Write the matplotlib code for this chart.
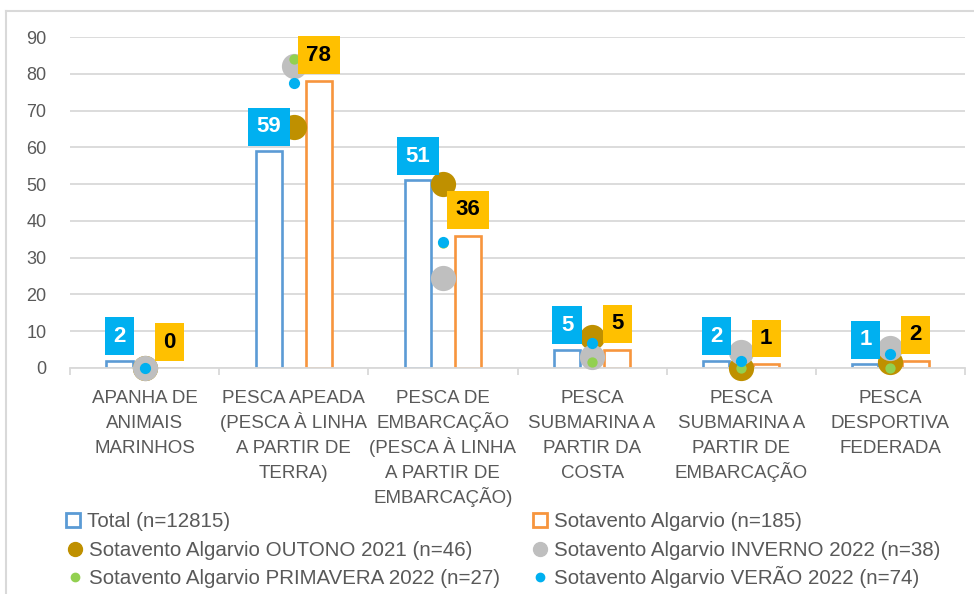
import matplotlib
matplotlib.use("Agg")
import matplotlib.pyplot as plt
import matplotlib.transforms as mtransforms
from matplotlib.lines import Line2D
import numpy as np

categories = ["APANHA DE\nANIMAIS\nMARINHOS",
              "PESCA APEADA\n(PESCA À LINHA\nA PARTIR DE\nTERRA)",
              "PESCA DE\nEMBARCAÇÃO\n(PESCA À LINHA\nA PARTIR DE\nEMBARCAÇÃO)",
              "PESCA\nSUBMARINA A\nPARTIR DA\nCOSTA",
              "PESCA\nSUBMARINA A\nPARTIR DE\nEMBARCAÇÃO",
              "PESCA\nDESPORTIVA\nFEDERADA"]
total = [2, 59, 51, 5, 2, 1]
sotavento = [0, 78, 36, 5, 1, 2]
outono = [0, 65.5, 50, 8.4, 0, 1.7]
inverno = [0, 82, 24.5, 3, 4.4, 5.4]
primavera = [0, 84, 34, 1.7, 0, 0]
verao = [0, 77.4, 34.2, 6.9, 2, 3.8]

names = ["Total (n=12815)", "Sotavento Algarvio (n=185)",
         "Sotavento Algarvio OUTONO 2021 (n=46)", "Sotavento Algarvio INVERNO 2022 (n=38)",
         "Sotavento Algarvio PRIMAVERA 2022 (n=27)", "Sotavento Algarvio VERÃO 2022 (n=74)"]

c_total = '#5B9BD5'
c_sot = '#F7953D'
c_out = '#BF9000'
c_inv = '#BFBFBF'
c_pri = '#92D050'
c_ver = '#00B0F0'
grey_txt = '#595959'

plt.rcParams['font.family'] = ['Liberation Sans', 'DejaVu Sans']

W, H = 974, 594
fig = plt.figure(figsize=(W / 100, H / 100), dpi=100)
ax = fig.add_axes([70/W, 1-368/H, 895/W, 331/H])

x = np.arange(len(categories))
w = 0.175
off = 0.168

ax.bar(x - off, total, w, facecolor='white', edgecolor=c_total, linewidth=1.9, zorder=2)
ax.bar(x + off, sotavento, w, facecolor='white', edgecolor=c_sot, linewidth=1.9, zorder=2)

ax.scatter(x, outono, s=330, color=c_out, zorder=3, clip_on=False, linewidths=0)
ax.scatter(x, inverno, s=330, color=c_inv, zorder=3, clip_on=False, linewidths=0)
ax.scatter(x, primavera, s=55, color=c_pri, zorder=3, clip_on=False, linewidths=0)
ax.scatter(x, verao, s=65, color=c_ver, zorder=3, clip_on=False, linewidths=0)

for i in range(len(categories)):
    ax.annotate(str(total[i]), (x[i] - off, total[i]), xytext=(0, 10), textcoords='offset points',
                ha='center', va='bottom', fontsize=16, fontweight='bold', color='white',
                bbox=dict(boxstyle='square,pad=0.38', fc=c_ver, ec='none'), zorder=5,
                annotation_clip=False)
    ax.annotate(str(sotavento[i]), (x[i] + off, sotavento[i]), xytext=(0, 11), textcoords='offset points',
                ha='center', va='bottom', fontsize=16, fontweight='bold', color='black',
                bbox=dict(boxstyle='square,pad=0.38', fc='#FFC000', ec='none'), zorder=5,
                annotation_clip=False)

ax.set_xlim(-0.5, len(categories) - 0.5)
ax.set_ylim(0, 90)
ax.set_yticks(range(0, 91, 10))
ax.yaxis.grid(True, color='#D9D9D9', linewidth=1.3)
ax.set_axisbelow(True)
for s in ['left', 'right', 'top']:
    ax.spines[s].set_visible(False)
ax.spines['bottom'].set_color('#D9D9D9')
ax.spines['bottom'].set_linewidth(1.3)
ax.tick_params(axis='y', length=0, pad=17, labelsize=13, labelcolor=grey_txt)
ax.set_xticks(x)
ax.set_xticklabels([])
ax.set_xticks(np.arange(-0.5, len(categories), 1), minor=True)
ax.tick_params(axis='x', which='major', length=0)
ax.tick_params(axis='x', which='minor', length=5, color='#D9D9D9', width=1.3)

# category labels, one line at a time so accents don't shift the spacing
trans = mtransforms.blended_transform_factory(ax.transData, fig.transFigure)
for i, lab in enumerate(categories):
    for k, line in enumerate(lab.split("\n")):
        ax.text(x[i], 1 - (403 + 25 * k) / H, line, transform=trans, ha='center', va='baseline',
                fontsize=13.5, color=grey_txt, clip_on=False)

# legend
leg_items = [
    (73, 520, dict(marker='s', ms=10, mfc='white', mec=c_total, mew=2), names[0]),
    (540, 520, dict(marker='s', ms=10, mfc='white', mec=c_sot, mew=2), names[1]),
    (75, 549, dict(marker='o', ms=10, mfc=c_out, mec=c_out), names[2]),
    (540, 549, dict(marker='o', ms=10, mfc=c_inv, mec=c_inv), names[3]),
    (75, 577, dict(marker='o', ms=6, mfc=c_pri, mec=c_pri), names[4]),
    (540, 577, dict(marker='o', ms=6, mfc=c_ver, mec=c_ver), names[5]),
]
for mx, my, style, txt in leg_items:
    fig.add_artist(Line2D([mx / W], [1 - my / H], transform=fig.transFigure, ls='none', **style))
    fig.text((mx + 14) / W, 1 - (my + 7) / H, txt, ha='left', va='baseline', fontsize=14.8, color=grey_txt)

fig.add_artist(Line2D([6/W, 6/W], [0, 1-11/H], transform=fig.transFigure, color='#D9D9D9', lw=1.5))
fig.add_artist(Line2D([6/W, 1], [1-11/H, 1-11/H], transform=fig.transFigure, color='#D9D9D9', lw=1.5))

fig.savefig('out.png', dpi=100)
